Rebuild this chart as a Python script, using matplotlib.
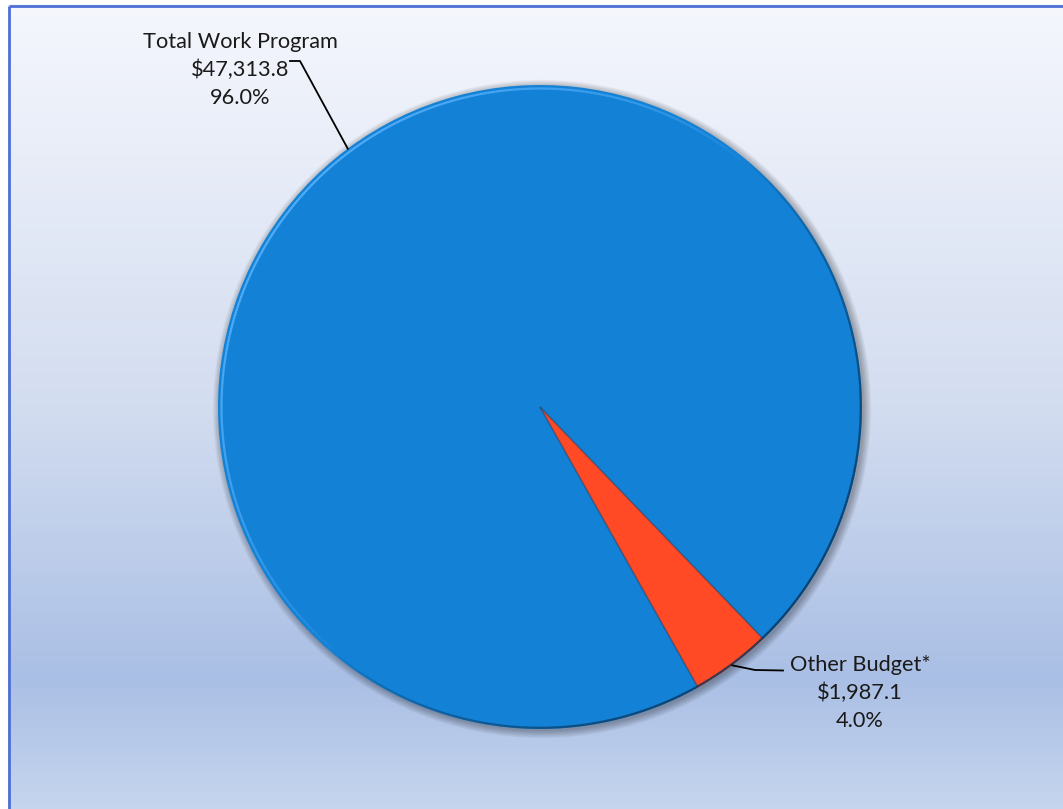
import numpy as np
import matplotlib
matplotlib.use("Agg")
import matplotlib.pyplot as plt
from matplotlib.patches import Circle
from matplotlib.collections import LineCollection
from matplotlib.colors import LinearSegmentedColormap

# Budget breakdown (in $ millions)
categories = ["Total Work Program", "Other Budget*"]
values = [47313.8, 1987.1]
colors = ["#1382D6", "#FF4A25"]

W, H = 1063, 809
fig = plt.figure(figsize=(W / 100, H / 100), dpi=100)
ax = fig.add_axes([0, 0, 1, 1])

# Background: vertical gradient in the chart area
bg = LinearSegmentedColormap.from_list(
    "bg",
    [(0.0, "#c6d5ee"), (0.16, "#aabfe5"), (0.5, "#d3ddf0"), (1.0, "#f5f7fd")],
)
grad = np.linspace(0, 1, 256).reshape(-1, 1)
ax.imshow(grad, cmap=bg, extent=(0, W, 0, H), origin="lower", aspect="auto", zorder=0)

cx, cy, r = 540, 402, 322
total = sum(values)
start = -60.6

# Soft shadow behind the pie
for i in range(10):
    ax.add_patch(Circle((cx + 2, cy - 2), r + 0.8 * i, color="black",
                        alpha=0.03, lw=0, zorder=1))

wedges, _ = ax.pie(values, colors=colors, startangle=start, counterclock=False,
                   center=(cx, cy), radius=r, frame=True,
                   wedgeprops=dict(linewidth=0, zorder=2))

# Bevel: dark rim toward lower right, light rim toward upper left
th = np.radians(np.linspace(0, 360, 721))
segs_dark, cols_dark, segs_hi, cols_hi = [], [], [], []
for a0, a1 in zip(th[:-1], th[1:]):
    f = np.cos((a0 + a1) / 2 - np.radians(-40))
    if f > 0:
        rr = r - 1.2
        segs_dark.append([(cx + rr * np.cos(a0), cy + rr * np.sin(a0)),
                          (cx + rr * np.cos(a1), cy + rr * np.sin(a1))])
        cols_dark.append((0.03, 0.2, 0.35, 0.85 * f ** 0.7))
    else:
        rr = r - 3.5
        segs_hi.append([(cx + rr * np.cos(a0), cy + rr * np.sin(a0)),
                        (cx + rr * np.cos(a1), cy + rr * np.sin(a1))])
        cols_hi.append((0.35, 0.7, 1.0, 0.9 * (-f) ** 0.7))
ax.add_collection(LineCollection(segs_dark, colors=cols_dark, linewidths=1.6, zorder=3))
ax.add_collection(LineCollection(segs_hi, colors=cols_hi, linewidths=1.6, zorder=3))

# Thin shading along the small slice's radial edges
w = wedges[1]
for ang in (w.theta1, w.theta2):
    a = np.radians(ang)
    ax.plot([cx, cx + (r - 1) * np.cos(a)], [cy, cy + (r - 1) * np.sin(a)],
            color="#0b3a66", alpha=0.45, lw=1.2, zorder=3, solid_capstyle="butt")

# Labels with leader lines
font = dict(family=["Lato", "DejaVu Sans"], fontsize=15.7, color="#1a1a1a")
labels = [f"{c}\n${v:,.1f}\n{v / total * 100:.1f}%" for c, v in zip(categories, values)]

mid0 = np.radians((wedges[0].theta1 + wedges[0].theta2) / 2)
p0 = (cx + r * np.cos(mid0), cy + r * np.sin(mid0))
ax.plot([p0[0], 300, 290], [p0[1], 748, 748], color="black", lw=1.3, zorder=4)
ax.text(240, 739, labels[0], ha="center", va="center", linespacing=1.5, zorder=5, **font)

mid1 = np.radians((wedges[1].theta1 + wedges[1].theta2) / 2)
p1 = (cx + r * np.cos(mid1), cy + r * np.sin(mid1))
ax.plot([p1[0], 755, 783], [p1[1], 139, 138.5], color="black", lw=1.3, zorder=4)
ax.text(860, 116, labels[1], ha="center", va="center", linespacing=1.5, zorder=5, **font)

# Chart frame (top and left edges)
ax.plot([8.5, 8.5], [0, 803.5], color="#4e6fd6", lw=2, zorder=6, solid_capstyle="butt")
ax.plot([8.5, W], [803.5, 803.5], color="#4e6fd6", lw=2, zorder=6, solid_capstyle="butt")
ax.add_patch(plt.Rectangle((0, 805), W, 4, color="white", zorder=5, lw=0))
ax.add_patch(plt.Rectangle((0, 0), 7.5, H, color="white", zorder=5, lw=0))

ax.set_xlim(0, W)
ax.set_ylim(0, H)
ax.set_aspect("auto")
ax.axis("off")

fig.savefig("out.png", dpi=100)
